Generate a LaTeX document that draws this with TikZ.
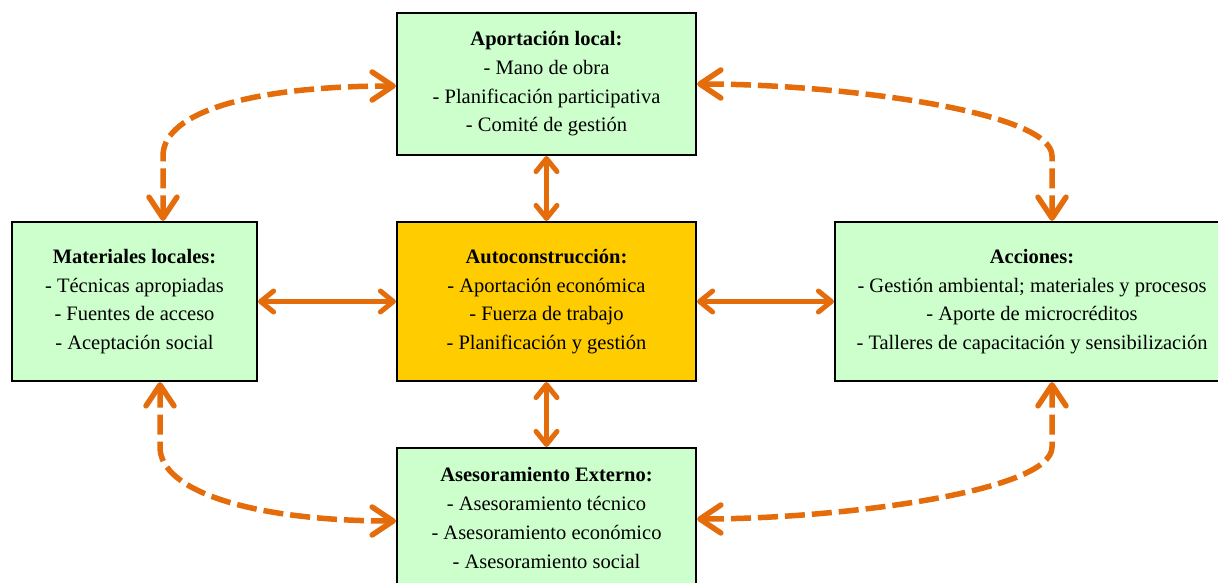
\documentclass[tikz,border=0pt]{standalone}
\usepackage{fontspec}
\setmainfont{Liberation Serif}
\usepackage{tikz}
\usetikzlibrary{arrows.meta}
\definecolor{verde}{RGB}{204,255,204}
\definecolor{oro}{RGB}{255,204,0}
\definecolor{naranja}{RGB}{228,108,10}
\begin{document}
\begin{tikzpicture}[x=1pt, y=-1pt, thin]
  \tikzstyle{caja}=[rectangle, draw=black, line width=2.2pt, fill=verde, text=black, align=center, inner sep=0pt, font=\fontsize{20.5}{28.7}\selectfont]
  \tikzstyle{flecha}=[draw=naranja, line width=5pt, {Straight Barb[length=13pt, width=21pt, line cap=round, line join=round]}-{Straight Barb[length=13pt, width=21pt, line cap=round, line join=round]}]
  \tikzstyle{enlace}=[draw=naranja, line width=5.5pt, dash pattern=on 20pt off 7pt, {Straight Barb[length=21pt, width=28pt, line cap=round, line join=round]}-{Straight Barb[length=21pt, width=28pt, line cap=round, line join=round]}]

  \useasboundingbox (0,0) rectangle (1218,583);
  \clip (0,0) rectangle (1218,583);

	\node[caja, minimum width=299pt, minimum height=142pt] (Aport) at (546.5,84)
		{\textbf{Aportación local:}\\- Mano de obra\\- Planificación participativa\\- Comité de gestión};
	\node[caja, minimum width=245pt, minimum height=159pt] (Mater) at (134.5,301.5)
		{\textbf{Materiales locales:}\\- Técnicas apropiadas\\- Fuentes de acceso\\- Aceptación social};
	\node[caja, fill=oro, minimum width=299pt, minimum height=159pt] (Auto) at (546.5,301.5)
		{\textbf{Autoconstrucción:}\\- Aportación económica\\- Fuerza de trabajo\\- Planificación y gestión};
	\node[caja, minimum width=394pt, minimum height=159pt] (Acc) at (1032,301.5)
		{\textbf{Acciones:}\\- Gestión ambiental; materiales y procesos\\- Aporte de microcréditos\\- Talleres de capacitación y sensibilización};
	\node[caja, minimum width=299pt, minimum height=140pt] (Ases) at (546.5,518)
		{\textbf{Asesoramiento Externo:}\\- Asesoramiento técnico\\- Asesoramiento económico\\- Asesoramiento social};

	\path
		(Aport) edge [flecha] (Auto)
		(Mater) edge [flecha] (Auto)
		(Auto) edge [flecha] (Acc)
		(Auto) edge [flecha] (Ases)
		;

	\draw[enlace] ([xshift=28.5pt]Mater.north) -- ++(0,-65) .. controls +(0,-45) and +(-140,0) .. ([yshift=-2pt]Aport.west);
	\draw[enlace] ([xshift=20pt]Acc.north) -- ++(0,-65) .. controls +(0,-45) and +(140,0) .. (Aport.east);
	\draw[enlace] ([xshift=25.5pt]Mater.south) -- ++(0,65) .. controls +(0,45) and +(-140,0) .. ([yshift=-3pt]Ases.west);
	\draw[enlace] ([xshift=20pt]Acc.south) -- ++(0,65) .. controls +(0,45) and +(140,0) .. ([yshift=-1pt]Ases.east);

\end{tikzpicture}
\end{document}
